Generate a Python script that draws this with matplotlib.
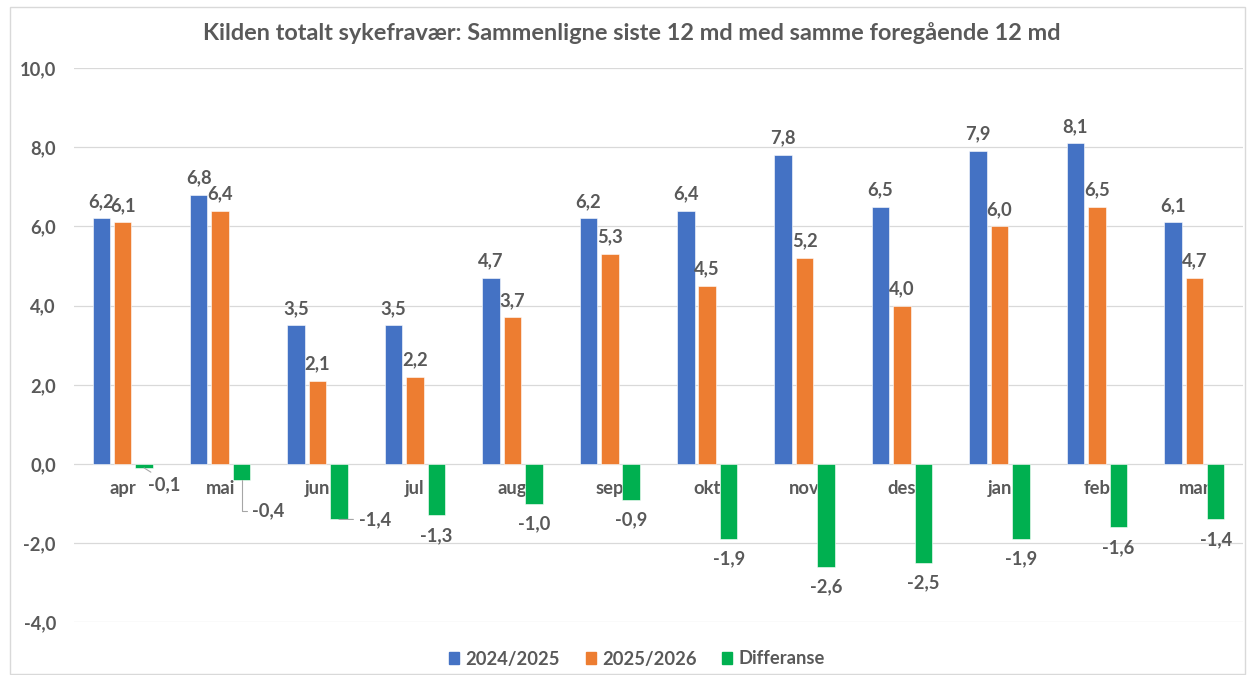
import matplotlib.pyplot as plt
from matplotlib.patches import Patch, Rectangle

# data
months = ['apr', 'mai', 'jun', 'jul', 'aug', 'sep', 'okt', 'nov', 'des', 'jan', 'feb', 'mar']
prev_year = [6.2, 6.8, 3.5, 3.5, 4.7, 6.2, 6.4, 7.8, 6.5, 7.9, 8.1, 6.1]
this_year = [6.1, 6.4, 2.1, 2.2, 3.7, 5.3, 4.5, 5.2, 4.0, 6.0, 6.5, 4.7]
difference = [-0.1, -0.4, -1.4, -1.3, -1.0, -0.9, -1.9, -2.6, -2.5, -1.9, -1.6, -1.4]
series_names = ['2024/2025', '2025/2026', 'Differanse']

COLORS = ['#4472C4', '#ED7D31', '#00B050']
TEXT = '#595959'
FONT = 'Lato'
FS = 13.2

plt.rcParams['font.family'] = [FONT, 'DejaVu Sans']
plt.rcParams['font.weight'] = 'bold'


def fmt(v):
    return f"{v:.1f}".replace('.', ',')


W, H = 1247, 675
fig = plt.figure(figsize=(W / 100, H / 100), dpi=100)
ax = fig.add_axes([74 / W, 1 - 622.4 / H, 1169 / W, (622.4 - 68) / H])

step = 0.22
width = 0.18
x = list(range(len(months)))
for k, vals in enumerate([prev_year, this_year, difference]):
    xs = [i + (k - 1) * step for i in x]
    ax.bar(xs, vals, width=width, color=COLORS[k], edgecolor='white',
           linewidth=0.4, zorder=2)

# data labels above the two positive series
for k, vals in enumerate([prev_year, this_year]):
    for i, v in enumerate(vals):
        ax.annotate(fmt(v), (i + (k - 1) * step, v), xytext=(0, 12.2),
                    textcoords='offset points', ha='center', va='center',
                    fontsize=FS, color=TEXT, fontweight='bold', zorder=3)

# difference labels, a few moved aside with leader lines like in excel
special = {
    0: dict(off=(14.4, -12.2), relpos=(0.3, 1.0), conn='arc3'),
    1: dict(off=(19.4, -22.3), relpos=(0.0, 0.5), conn='angle,angleA=0,angleB=90,rad=0'),
    2: dict(off=(26.0, 0.0), relpos=(0.0, 0.5), conn='arc3'),
}
for i, v in enumerate(difference):
    xb = i + step
    if i in special:
        s = special[i]
        ax.annotate(fmt(v), (xb, v), xytext=s['off'], textcoords='offset points',
                    ha='center', va='center', fontsize=FS, color=TEXT,
                    fontweight='bold', zorder=3,
                    arrowprops=dict(arrowstyle='-', color='#a6a6a6', lw=0.8,
                                    relpos=s['relpos'], connectionstyle=s['conn'],
                                    shrinkA=2, shrinkB=0))
    else:
        ax.annotate(fmt(v), (xb, v), xytext=(0, -14.4), textcoords='offset points',
                    ha='center', va='center', fontsize=FS, color=TEXT,
                    fontweight='bold', zorder=3)

# category labels sit just under the zero line, behind the bars
for i, m in enumerate(months):
    ax.annotate(m, (i, 0), xytext=(0, -21.6), textcoords='offset points',
                ha='center', va='baseline', fontsize=FS, color=TEXT,
                fontweight='bold', zorder=1)

ax.set_xlim(-0.5, len(months) - 0.5)
ax.set_ylim(-4, 10)
yt = list(range(-4, 11, 2))
ax.set_yticks(yt)
ax.set_yticklabels([fmt(v) for v in yt])
ax.set_xticks([])
ax.tick_params(axis='y', length=0, pad=13, labelsize=FS, labelcolor=TEXT)
for lab in ax.get_yticklabels():
    lab.set_fontweight('bold')
ax.yaxis.grid(True, color='#d9d9d9', linewidth=0.9)
ax.set_axisbelow(True)
for sp in ax.spines.values():
    sp.set_visible(False)

fig.text(632 / W, 1 - 33.5 / H,
         'Kilden totalt sykefravær: Sammenligne siste 12 md med samme foregående 12 md',
         ha='center', va='center', fontsize=16.9, color=TEXT, fontweight='bold')

handles = [Patch(color=c) for c in COLORS]
leg = fig.legend(handles, series_names, loc='center', bbox_to_anchor=(637 / W, 1 - 659 / H),
                 ncol=3, frameon=False, fontsize=FS, handlelength=0.55, handleheight=0.55,
                 handletextpad=0.35, columnspacing=1.4)
for t in leg.get_texts():
    t.set_color(TEXT)
    t.set_fontweight('bold')

fig.patches.append(Rectangle((10 / W, 1 / H), 1235 / W, 667 / H, transform=fig.transFigure,
                             fill=False, edgecolor='#d9d9d9', linewidth=1))

fig.savefig('out.png', dpi=100)
